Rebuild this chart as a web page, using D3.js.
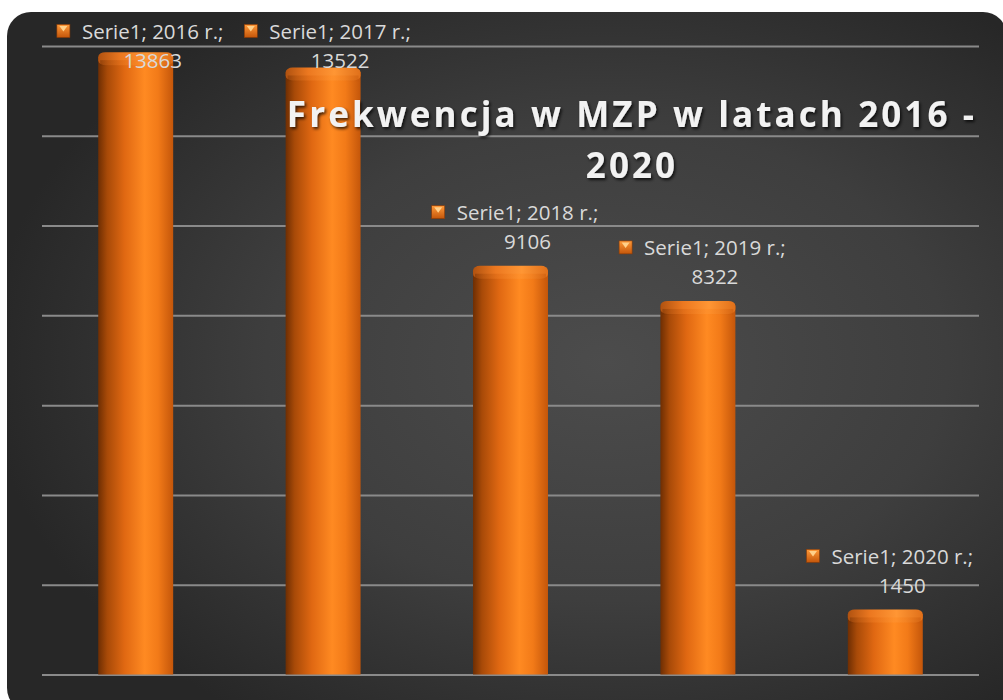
<!DOCTYPE html>
<html>
<head>
<meta charset="utf-8">
<script src="https://cdn.jsdelivr.net/npm/d3@7/dist/d3.min.js"></script>
<style>
  html, body { margin: 0; padding: 0; background: #ffffff; }
  svg { display: block; }
</style>
</head>
<body>
<svg id="chart" width="1003" height="700"></svg>
<script>
// ---- data ----
const categories = ["2016 r.", "2017 r.", "2018 r.", "2019 r.", "2020 r."];
const seriesName = "Serie1";
const values = [13863, 13522, 9106, 8322, 1450];
const yTicks = [0, 2000, 4000, 6000, 8000, 10000, 12000, 14000];
const titleLines = ["Frekwencja w MZP w latach 2016 -", "2020"];

const svg = d3.select("#chart");
const plot = { left: 42, right: 979, top: 46, bottom: 674.5 };

const defs = svg.append("defs");

// background gradient
const bg = defs.append("radialGradient").attr("id", "bgGrad")
  .attr("cx", "60%").attr("cy", "50%").attr("r", "62%");
bg.append("stop").attr("offset", "0%").attr("stop-color", "#4c4c4c");
bg.append("stop").attr("offset", "55%").attr("stop-color", "#3e3e3e");
bg.append("stop").attr("offset", "100%").attr("stop-color", "#272727");

// bar body gradient
const bodyG = defs.append("linearGradient").attr("id", "barBody")
  .attr("x1", "0%").attr("x2", "100%").attr("y1", "0%").attr("y2", "0%");
[["0%", "#6e2e03"], ["12%", "#a84a08"], ["35%", "#e06812"], ["62%", "#ff8a22"], ["80%", "#f27a18"], ["100%", "#c4560a"]]
  .forEach(([o, c]) => bodyG.append("stop").attr("offset", o).attr("stop-color", c));

// bar top gradient
const topG = defs.append("linearGradient").attr("id", "barTop")
  .attr("x1", "0%").attr("x2", "100%").attr("y1", "0%").attr("y2", "0%");
[["0%", "#b05210"], ["30%", "#ec7820"], ["65%", "#ff9634"], ["100%", "#e0701a"]]
  .forEach(([o, c]) => topG.append("stop").attr("offset", o).attr("stop-color", c));

// marker gradient
const mkG = defs.append("linearGradient").attr("id", "mkGrad")
  .attr("x1", "0%").attr("x2", "0%").attr("y1", "0%").attr("y2", "100%");
[["0%", "#ff9a3a"], ["100%", "#c4560a"]]
  .forEach(([o, c]) => mkG.append("stop").attr("offset", o).attr("stop-color", c));

// title shadow
const sh = defs.append("filter").attr("id", "shadow")
  .attr("x", "-10%").attr("y", "-30%").attr("width", "120%").attr("height", "160%");
sh.append("feDropShadow").attr("dx", 1.5).attr("dy", 2).attr("stdDeviation", 1.5)
  .attr("flood-color", "#000").attr("flood-opacity", 0.75);

// background panel
svg.append("rect")
  .attr("x", 7).attr("y", 12).attr("width", 1000).attr("height", 700)
  .attr("rx", 24).attr("ry", 24)
  .attr("fill", "url(#bgGrad)");

// scales
const x = d3.scaleBand().domain(categories)
  .range([plot.left, plot.right]).paddingInner(0.6).paddingOuter(0.3);
const y = d3.scaleLinear().domain([0, 14000]).range([plot.bottom, plot.top]);

// gridlines via axis
const gridAxis = d3.axisLeft(y).tickValues(yTicks)
  .tickSize(-(plot.right - plot.left)).tickFormat("");
const g = svg.append("g").attr("transform", `translate(${plot.left},0)`).call(gridAxis);
g.select(".domain").remove();
g.selectAll(".tick line").attr("stroke", "#8a8a8a").attr("stroke-width", 2);

// bars (cylinders)
const capH = 9;
const bars = svg.append("g").selectAll("g.bar").data(values).join("g").attr("class", "bar");
bars.append("rect")
  .attr("x", (d, i) => x(categories[i]))
  .attr("y", d => y(d) + capH / 2)
  .attr("width", x.bandwidth())
  .attr("height", d => y(0) - y(d) - capH / 2)
  .attr("fill", "url(#barBody)");
bars.append("rect")
  .attr("x", (d, i) => x(categories[i]))
  .attr("y", d => y(d))
  .attr("width", x.bandwidth())
  .attr("height", capH + 4)
  .attr("rx", 7).attr("ry", 5)
  .attr("fill", "url(#barTop)");
bars.append("rect")
  .attr("x", (d, i) => x(categories[i]) + 2)
  .attr("y", d => y(d) + capH - 1)
  .attr("width", x.bandwidth() - 4)
  .attr("height", 6)
  .attr("fill", "url(#barBody)")
  .attr("opacity", 0.45);

// data labels
const labelFont = "'Open Sans', 'DejaVu Sans', sans-serif";
const labels = svg.append("g").selectAll("g.lbl").data(values).join("g").attr("class", "lbl");
labels.each(function (d, i) {
  const gg = d3.select(this);
  const cx = x(categories[i]) + x.bandwidth() / 2 + 17;
  const l1 = Math.max(31, y(d) - 53.5);
  const l2 = l1 + 29;
  const t1 = gg.append("text")
    .attr("x", cx).attr("y", l1)
    .attr("text-anchor", "middle").attr("dominant-baseline", "central")
    .attr("font-family", labelFont).attr("font-size", 20.5)
    .attr("fill", "#d9d9d9")
    .text(`${seriesName}; ${categories[i]};`);
  gg.append("text")
    .attr("x", cx).attr("y", l2)
    .attr("text-anchor", "middle").attr("dominant-baseline", "central")
    .attr("font-family", labelFont).attr("font-size", 20.5)
    .attr("fill", "#d9d9d9")
    .text(d3.format("d")(d));
  const tw = t1.node().getComputedTextLength();
  const mx = cx - tw / 2 - 12 - 13;
  gg.append("rect").attr("x", mx).attr("y", l1 - 6.5).attr("width", 13).attr("height", 13)
    .attr("fill", "url(#mkGrad)").attr("stroke", "#8a3a05").attr("stroke-width", 0.6);
  gg.append("path")
    .attr("d", `M${mx + 2.5},${l1 - 5} L${mx + 10.5},${l1 - 5} L${mx + 6.5},${l1 + 0.5} Z`)
    .attr("fill", "#ffd08a");
});

// title
const title = svg.append("g").attr("filter", "url(#shadow)");
titleLines.forEach((t, i) => {
  title.append("text")
    .attr("x", 632).attr("y", 127 + i * 51)
    .attr("text-anchor", "middle")
    .attr("font-family", "'Open Sans', 'DejaVu Sans', sans-serif")
    .attr("font-weight", "bold").attr("font-size", 35)
    .attr("letter-spacing", "3.1px")
    .attr("fill", "#f2f2f2")
    .text(t);
});
</script>
</body>
</html>
